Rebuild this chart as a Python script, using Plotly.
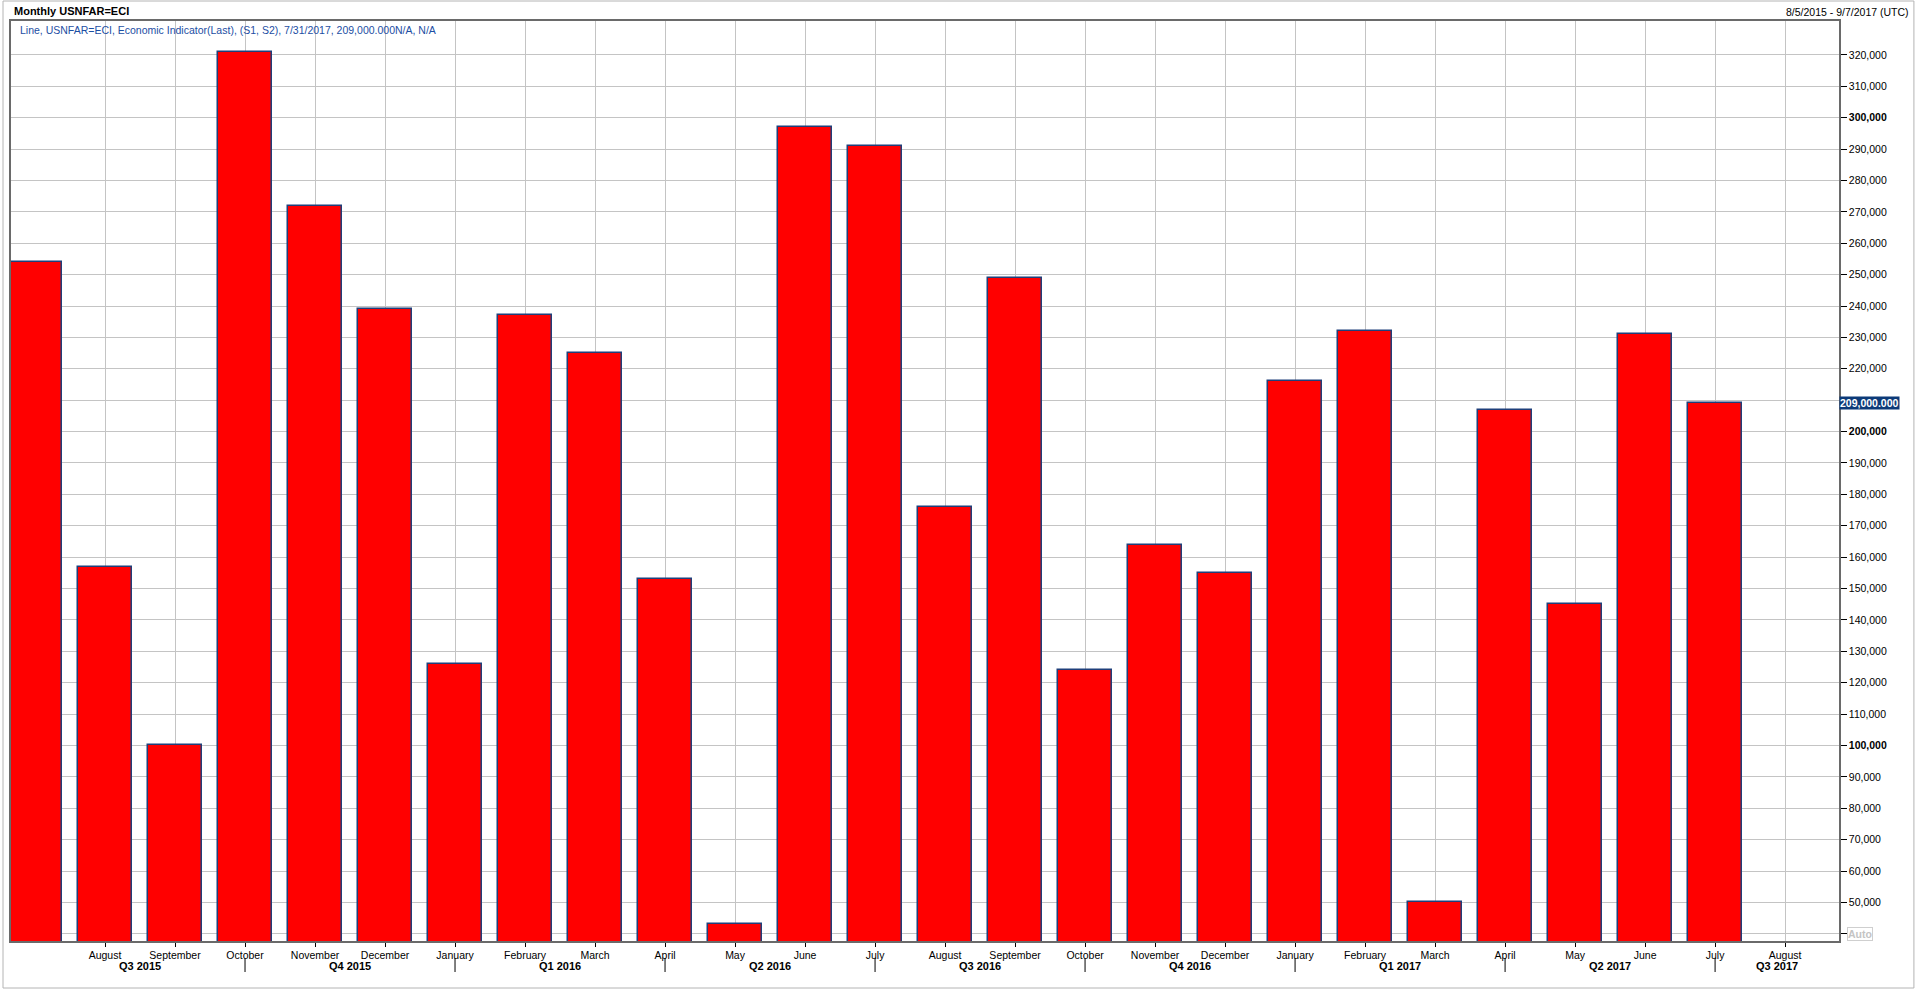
import plotly.graph_objects as go

# monthly change in US nonfarm payrolls, Jul 2015 - Aug 2017
periods = ['2015-07', '2015-08', '2015-09', '2015-10', '2015-11', '2015-12',
           '2016-01', '2016-02', '2016-03', '2016-04', '2016-05', '2016-06',
           '2016-07', '2016-08', '2016-09', '2016-10', '2016-11', '2016-12',
           '2017-01', '2017-02', '2017-03', '2017-04', '2017-05', '2017-06',
           '2017-07', '2017-08']
month_names = ['July', 'August', 'September', 'October', 'November', 'December',
               'January', 'February', 'March', 'April', 'May', 'June',
               'July', 'August', 'September', 'October', 'November', 'December',
               'January', 'February', 'March', 'April', 'May', 'June',
               'July', 'August']
nfp_change = [254000, 157000, 100000, 321000, 272000, 239000,
              126000, 237000, 225000, 153000, 43000, 297000,
              291000, 176000, 249000, 124000, 164000, 155000,
              216000, 232000, 50000, 207000, 145000, 231000,
              209000, None]

quarter_labels = ['Q3 2015', 'Q4 2015', 'Q1 2016', 'Q2 2016', 'Q3 2016',
                  'Q4 2016', 'Q1 2017', 'Q2 2017', 'Q3 2017']
quarter_pos = [1.5, 4.5, 7.5, 10.5, 13.5, 16.5, 19.5, 22.5, 24.88]
quarter_breaks = ['2015-10', '2016-01', '2016-04', '2016-07',
                  '2016-10', '2017-01', '2017-04', '2017-07']

ytick_vals = list(range(40000, 330000, 10000))
bold_ticks = [100000, 200000, 300000]
last_value = 209000

font_fam = "Tahoma, 'Liberation Sans', Arial, sans-serif"

ytick_text = []
for v in ytick_vals:
    if v == 40000 or v == 210000:
        ytick_text.append('')
    elif v in bold_ticks:
        ytick_text.append('<b>{:,}</b>'.format(v))
    else:
        ytick_text.append('{:,}'.format(v))

fig = go.Figure()
fig.add_trace(go.Bar(
    x=periods, y=nfp_change, width=0.78,
    marker=dict(color='#ff0000', line=dict(color='#1f3f7a', width=1.5)),
    hoverinfo='x+y',
))

# plot geometry (px) used to place things outside the axes
L, R, T, B = 9, 1839, 21, 941
W, H = R - L, B - T


def px_x(x):
    return (x - L) / W


def px_y(y):
    return (B - y) / H


shapes = []
for q in quarter_breaks:
    shapes.append(dict(type='line', xref='x', yref='paper', x0=q, x1=q,
                       y0=px_y(958), y1=px_y(972),
                       line=dict(color='black', width=1)))
# outer frame of the window
shapes.append(dict(type='rect', xref='paper', yref='paper',
                   x0=px_x(1), x1=px_x(1914), y0=px_y(988), y1=px_y(1),
                   line=dict(color='#b4b4b4', width=1), layer='below'))

annotations = []
for lab, pos in zip(quarter_labels, quarter_pos):
    annotations.append(dict(text='<b>' + lab + '</b>', x=pos, xref='x',
                            y=px_y(966), yref='paper', showarrow=False,
                            xanchor='center', yanchor='middle',
                            font=dict(size=11, color='black', family=font_fam)))

annotations.append(dict(text='<b>Monthly USNFAR=ECI</b>', x=px_x(10), y=px_y(11),
                        xref='paper', yref='paper', showarrow=False,
                        xanchor='left', yanchor='middle',
                        font=dict(size=11, color='black', family=font_fam)))
annotations.append(dict(text='8/5/2015 - 9/7/2017 (UTC)', x=px_x(1911), y=px_y(12),
                        xref='paper', yref='paper', showarrow=False,
                        xanchor='right', yanchor='middle',
                        font=dict(size=10.5, color='black', family=font_fam)))
annotations.append(dict(
    text='Line, USNFAR=ECI, Economic Indicator(Last), (S1, S2), 7/31/2017, 209,000.000N/A, N/A',
    x=px_x(16), y=px_y(30), xref='paper', yref='paper', showarrow=False,
    xanchor='left', yanchor='middle',
    font=dict(size=10.5, color='#1c4ea3', family=font_fam)))
annotations.append(dict(text='<b>{:,}.000</b>'.format(last_value), x=1.0, y=last_value,
                        xref='paper', yref='y', showarrow=False,
                        xanchor='left', yanchor='middle', bgcolor='#0c3a78',
                        borderpad=0,
                        font=dict(size=10.5, color='white', family=font_fam)))
annotations.append(dict(text='<b>Auto</b>', x=px_x(1847), y=40000,
                        xref='paper', yref='y', showarrow=False,
                        xanchor='left', yanchor='middle', bordercolor='#cfcfcf',
                        borderwidth=1, borderpad=0,
                        font=dict(size=10.5, color='#c4c4c4', family=font_fam)))

fig.update_layout(
    width=1916, height=991,
    margin=dict(l=L, r=1916 - R, t=T, b=991 - B),
    paper_bgcolor='white', plot_bgcolor='white',
    showlegend=False, bargap=0,
    font=dict(family=font_fam, size=10.5, color='black'),
    shapes=shapes, annotations=annotations,
)
fig.update_xaxes(
    type='category', range=[-0.343, 25.77],
    tickvals=periods[1:], ticktext=month_names[1:],
    ticks='outside', ticklen=4, tickcolor='black',
    showgrid=True, gridcolor='#c4c4c4', gridwidth=1,
    showline=True, linecolor='#6a6a6a', linewidth=1.5, mirror=True,
    tickfont=dict(size=10.5, color='black'),
)
fig.update_yaxes(
    side='right', range=[37700, 330800],
    tickvals=ytick_vals, ticktext=ytick_text,
    ticks='outside', ticklen=6, tickcolor='black',
    showgrid=True, gridcolor='#c4c4c4', gridwidth=1, zeroline=False,
    showline=True, linecolor='#6a6a6a', linewidth=1.5, mirror=True,
    tickfont=dict(size=10.5, color='black'),
)

fig.write_html("out.html", config={'displayModeBar': False},
               post_script="document.body.style.margin='0';document.body.style.overflow='hidden';")
